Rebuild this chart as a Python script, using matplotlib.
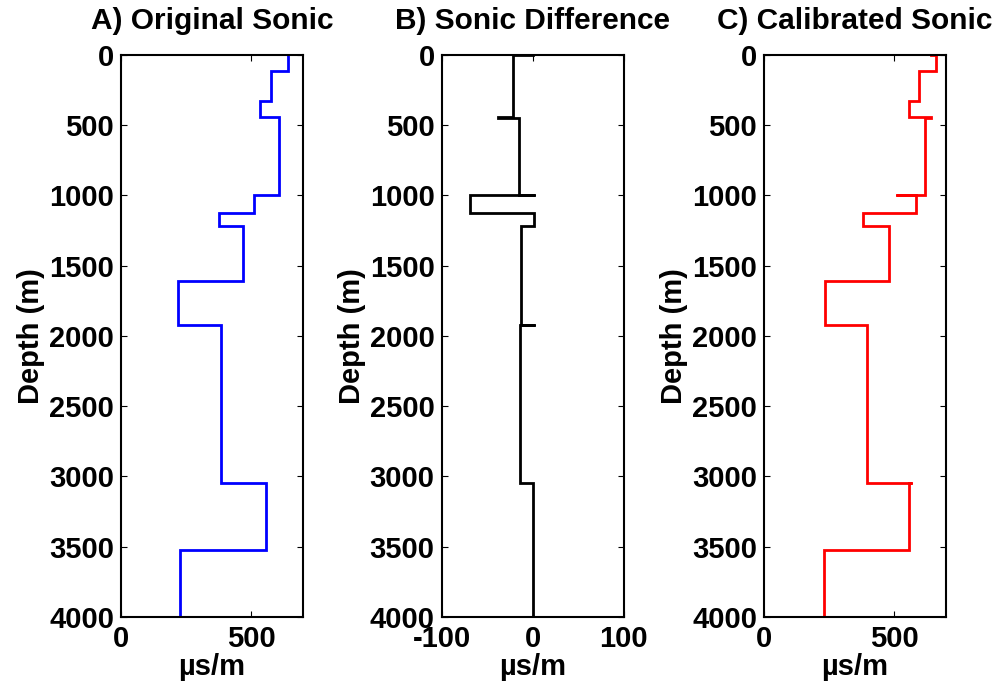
import matplotlib
matplotlib.use("Agg")
import matplotlib.pyplot as plt
import numpy as np

plt.rcParams.update({
    "font.family": ["Liberation Sans", "DejaVu Sans"],
    "font.weight": "bold",
    "font.size": 21,
    "axes.unicode_minus": False,
})

# layer tops (m) and interval values (us/m); zero-thickness layers are the
# little spikes where neighbouring steps do not line up exactly
orig_tops = [0, 114, 327, 444, 1000, 1127, 1217, 1611, 1922, 3044, 3523]
orig_vals = [643, 575, 534, 607, 513, 378, 468, 221, 383, 559, 225]

diff_tops = [0, 0, 444, 446, 1000, 1000, 1122, 1217, 1922, 1924, 3044]
diff_vals = [0, -22, -38, -15, 2, -69, 1, -13, 2, -14, 0]

cal_tops = [0, 0, 114, 327, 444, 446, 1000, 1000, 1122, 1127, 1217, 1611,
            1922, 1925, 3044, 3046, 3523]
cal_vals = [644, 663, 596, 556, 644, 619, 509, 583, 512, 380, 481, 236,
            385, 396, 571, 558, 230]

max_depth = 4000
titles = ["A) Original Sonic", "B) Sonic Difference", "C) Calibrated Sonic"]
xlims = [(0, 700), (-100, 100), (0, 700)]
xticks = [[0, 500], [-100, 0, 100], [0, 500]]
colors = ["#0000ff", "#000000", "#ff0000"]
logs = [(orig_tops, orig_vals), (diff_tops, diff_vals), (cal_tops, cal_vals)]
yticks = [0, 500, 1000, 1500, 2000, 2500, 3000, 3500, 4000]


def log_path(tops, vals):
    # blocky well-log curve: each layer is a vertical segment
    bottoms = list(tops[1:]) + [max_depth]
    x, y = [], []
    for t, b, v in zip(tops, bottoms, vals):
        x += [v, v]
        y += [t, b]
    return x, y


fig = plt.figure(figsize=(10, 6.88), dpi=100)
lefts = [0.121, 0.4417, 0.764]
for i in range(3):
    ax = fig.add_axes([lefts[i], 0.1032, 0.182, 0.817])
    x, y = log_path(*logs[i])
    ax.plot(x, y, color=colors[i], lw=2.0, solid_joinstyle="miter")
    ax.set_xlim(*xlims[i])
    ax.set_ylim(max_depth, 0)
    ax.set_xticks(xticks[i])
    ax.set_yticks(yticks)
    ax.tick_params(direction="in", length=4, width=0.8, top=True, right=True,
                   labelsize=21)
    ax.tick_params(axis="x", pad=6)
    ax.tick_params(axis="y", pad=5)
    for s in ax.spines.values():
        s.set_linewidth(1.5)
    ax.set_title(titles[i], fontsize=21.5, fontweight="bold", pad=19)
    ax.set_ylabel("Depth (m)", fontsize=21, fontweight="bold", labelpad=3)
    ax.set_xlabel("\u00b5s/m", fontsize=21, fontweight="bold", labelpad=0)

fig.savefig("out.png", dpi=100)
